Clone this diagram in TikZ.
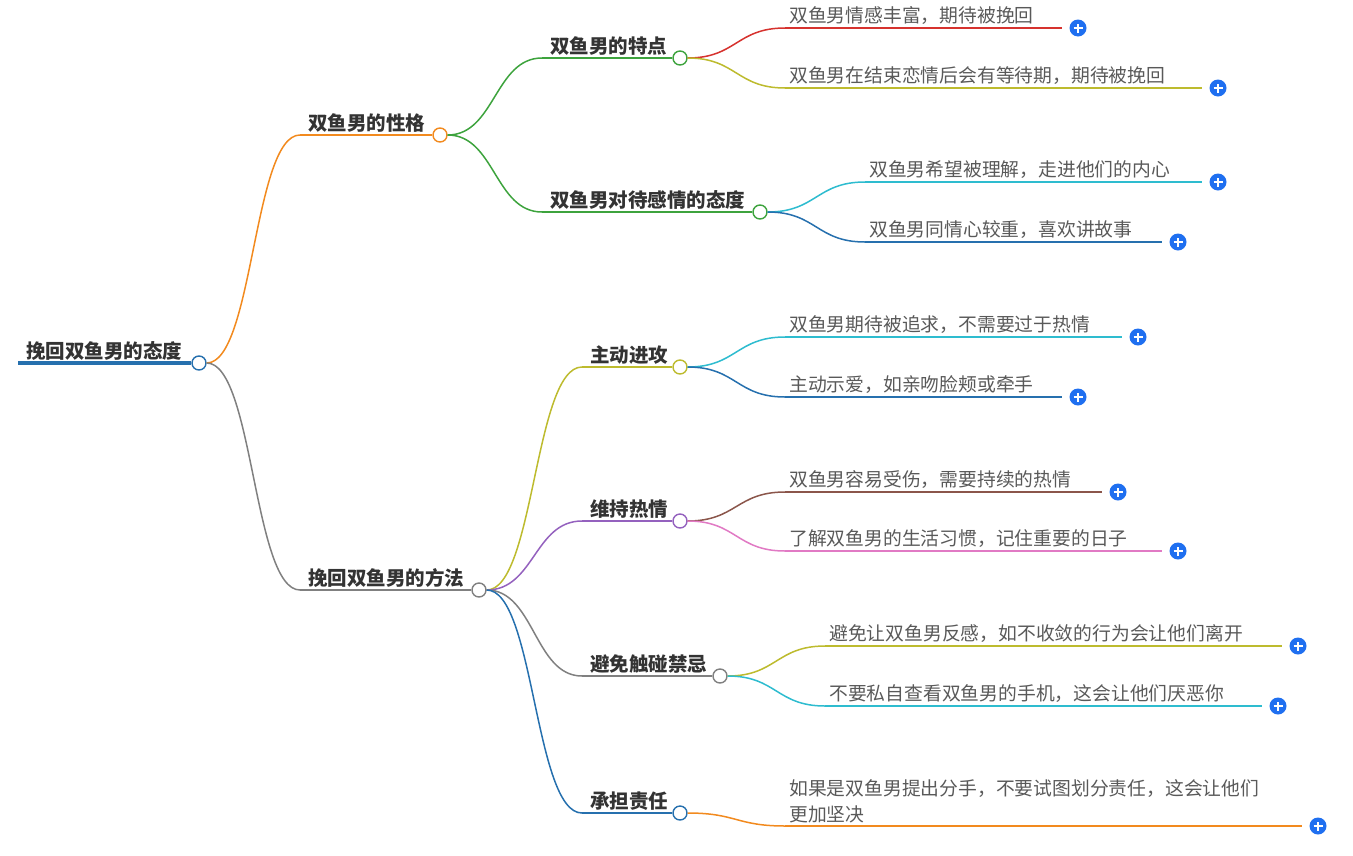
\documentclass[tikz,border=0pt]{standalone}
\usepackage{fontspec}
\setmainfont{Noto Sans CJK SC}
\usetikzlibrary{positioning,calc}
\definecolor{cOrange}{HTML}{F28A1E}
\definecolor{cGray}{HTML}{808080}
\definecolor{cGreen}{HTML}{3DA33D}
\definecolor{cRed}{HTML}{D6322E}
\definecolor{cOlive}{HTML}{BDBB2E}
\definecolor{cCyan}{HTML}{2EBCCF}
\definecolor{cBlue}{HTML}{2670AE}
\definecolor{cPurple}{HTML}{9461BE}
\definecolor{cBrown}{HTML}{8B564B}
\definecolor{cPink}{HTML}{E17AC4}
\definecolor{cPlus}{HTML}{1F6FF0}
\tikzset{
  topic/.style={anchor=south west,inner xsep=8pt,inner ysep=2pt,font=\fontsize{19.5}{22}\selectfont\bfseries,text=black!80},
  leaf/.style={anchor=south west,inner xsep=4pt,inner ysep=3pt,font=\fontsize{18.8}{26}\selectfont,text=black!65,align=left},
  knob/.style={circle,draw=#1,fill=white,line width=1.4pt,inner sep=0pt,minimum size=14pt},
  plus/.style={circle,fill=cPlus,inner sep=0pt,minimum size=17pt,
    path picture={\draw[white,line width=1.5pt] ([xshift=-4.5pt]path picture bounding box.center)--([xshift=4.5pt]path picture bounding box.center)
      ([yshift=-4.5pt]path picture bounding box.center)--([yshift=4.5pt]path picture bounding box.center);}},
  link/.style={line width=1.5pt}
}
\newcommand{\curve}[3]{\draw[link,#1] let \p1=(#2.east), \p2=(#3) in
  (\p1) .. controls (\x1/2+\x2/2,\y1) and (\x1/2+\x2/2,\y2) .. (\p2);}
\begin{document}
\begin{tikzpicture}[x=1pt,y=-1pt]
\useasboundingbox (0,0) rectangle (1353,855);
% root
\coordinate (r0) at (18,363);
\node[knob=cBlue] (root) at (199,363) {};
\draw[cBlue,line width=4pt] (r0) -- (root.west);
\node[topic] at (r0) {挽回双鱼男的态度};
% level 1
\coordinate (a0) at (300,135);
\node[knob=cOrange] (a) at (440,135) {};
\curve{cOrange}{root}{a0}
\draw[link,cOrange] (a0) -- (a.west);
\node[topic] at (a0) {双鱼男的性格};
\coordinate (b0) at (300,590);
\node[knob=cGray] (b) at (479,590) {};
\curve{cGray}{root}{b0}
\draw[link,cGray] (b0) -- (b.west);
\node[topic] at (b0) {挽回双鱼男的方法};
% level 2 under a
\coordinate (a10) at (542,58);
\node[knob=cGreen] (a1) at (680,58) {};
\curve{cGreen}{a}{a10}
\draw[link,cGreen] (a10) -- (a1.west);
\node[topic] at (a10) {双鱼男的特点};
\coordinate (a20) at (542,212);
\node[knob=cGreen] (a2) at (760,212) {};
\curve{cGreen}{a}{a20}
\draw[link,cGreen] (a20) -- (a2.west);
\node[topic] at (a20) {双鱼男对待感情的态度};
% level 2 under b
\coordinate (b10) at (582,367);
\node[knob=cOlive] (b1) at (680,367) {};
\curve{cOlive}{b}{b10}
\draw[link,cOlive] (b10) -- (b1.west);
\node[topic] at (b10) {主动进攻};
\coordinate (b20) at (582,521);
\node[knob=cPurple] (b2) at (680,521) {};
\curve{cPurple}{b}{b20}
\draw[link,cPurple] (b20) -- (b2.west);
\node[topic] at (b20) {维持热情};
\coordinate (b30) at (582,676);
\node[knob=cGray] (b3) at (720,676) {};
\curve{cGray}{b}{b30}
\draw[link,cGray] (b30) -- (b3.west);
\node[topic] at (b30) {避免触碰禁忌};
\coordinate (b40) at (582,813);
\node[knob=cBlue] (b4) at (680,813) {};
\curve{cBlue}{b}{b40}
\draw[link,cBlue] (b40) -- (b4.west);
\node[topic] at (b40) {承担责任};
% leaves
\foreach \from/\col/\sx/\y/\ex/\txt [count=\i] in {
  a1/cRed/785/28/1062/{双鱼男情感丰富，期待被挽回},
  a1/cOlive/785/88/1202/{双鱼男在结束恋情后会有等待期，期待被挽回},
  a2/cCyan/865/182/1202/{双鱼男希望被理解，走进他们的内心},
  a2/cBlue/865/242/1162/{双鱼男同情心较重，喜欢讲故事},
  b1/cCyan/785/337/1122/{双鱼男期待被追求，不需要过于热情},
  b1/cBlue/785/397/1062/{主动示爱，如亲吻脸颊或牵手},
  b2/cBrown/785/492/1102/{双鱼男容易受伤，需要持续的热情},
  b2/cPink/785/551/1162/{了解双鱼男的生活习惯，记住重要的日子},
  b3/cOlive/825/646/1282/{避免让双鱼男反感，如不收敛的行为会让他们离开},
  b3/cCyan/825/706/1262/{不要私自查看双鱼男的手机，这会让他们厌恶你}}{
  \coordinate (l\i) at (\sx,\y);
  \node[plus] (p\i) at (\ex+16,\y) {};
  \curve{\col}{\from}{l\i}
  \draw[link,\col] (l\i) -- (\ex,\y);
  \node[leaf] at (l\i) {\txt};
}
\coordinate (l11) at (785,826);
\node[plus] (p11) at (1318,826) {};
\curve{cOrange}{b4}{l11}
\draw[link,cOrange] (l11) -- (1302,826);
\node[leaf] at (l11) {如果是双鱼男提出分手，不要试图划分责任，这会让他们\\更加坚决};
\end{tikzpicture}
\end{document}
